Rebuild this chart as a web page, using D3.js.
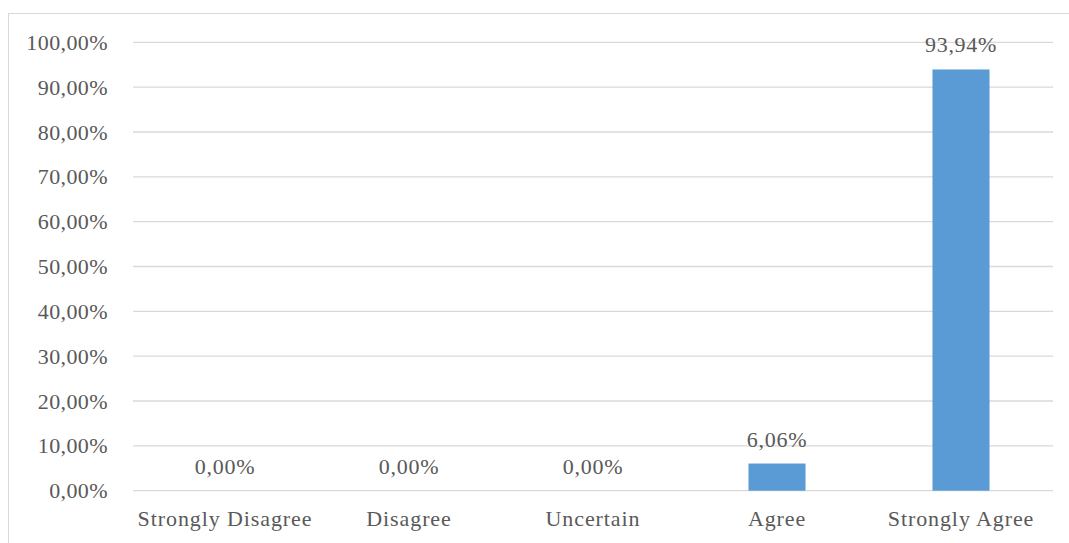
<!DOCTYPE html>
<html>
<head>
<meta charset="utf-8">
<script src="https://cdn.jsdelivr.net/npm/d3@7"></script>
<style>
  html, body { margin: 0; padding: 0; background: #fff; }
  svg { display: block; }
  text { font-family: "Liberation Serif", "Times New Roman", serif; fill: #595959; }
</style>
</head>
<body>
<svg id="chart" width="1069" height="543"></svg>
<script>
// Responses per agreement level (percent)
const categories = ["Strongly Disagree", "Disagree", "Uncertain", "Agree", "Strongly Agree"];
const values = [0.00, 0.00, 0.00, 6.06, 93.94];
const yTicks = [0, 10, 20, 30, 40, 50, 60, 70, 80, 90, 100];

const W = 1069, H = 543;
const plot = { left: 133, right: 1053, top: 42.3, bottom: 490.7 };
const FS = 22;

const svg = d3.select("#chart");

// Chart frame (top and left edges fall inside the view)
svg.append("rect")
  .attr("x", 8.5).attr("y", 13.5)
  .attr("width", W + 10).attr("height", H + 10)
  .attr("fill", "none").attr("stroke", "#D9D9D9").attr("stroke-width", 1);

const x = d3.scaleBand()
  .domain(categories)
  .range([plot.left, plot.right])
  .paddingInner(0.69)
  .paddingOuter(0.345);

const y = d3.scaleLinear()
  .domain([0, 100])
  .range([plot.bottom, plot.top]);

const fmt = v => v.toFixed(2).replace(".", ",") + "%";

// Horizontal gridlines
svg.append("g")
  .selectAll("line")
  .data(yTicks)
  .join("line")
  .attr("x1", plot.left).attr("x2", plot.right)
  .attr("y1", d => y(d)).attr("y2", d => y(d))
  .attr("stroke", "#D9D9D9").attr("stroke-width", 1.3);

// Y axis labels
const yAxis = d3.axisLeft(y).tickValues(yTicks).tickFormat(fmt).tickSize(0).tickPadding(25);
const gy = svg.append("g").attr("transform", `translate(${plot.left},0)`).call(yAxis);
gy.select(".domain").remove();
gy.selectAll("text")
  .attr("font-size", FS)
  .attr("letter-spacing", 0.4)
  .attr("fill", "#595959");

// X axis labels
const xAxis = d3.axisBottom(x).tickSize(0).tickPadding(20);
const gx = svg.append("g").attr("transform", `translate(0,${plot.bottom})`).call(xAxis);
gx.select(".domain").remove();
gx.selectAll("text")
  .attr("font-size", FS)
  .attr("letter-spacing", 0.9)
  .attr("fill", "#595959");

// Bars
svg.append("g")
  .selectAll("rect")
  .data(values)
  .join("rect")
  .attr("x", (d, i) => x(categories[i]))
  .attr("width", x.bandwidth())
  .attr("y", d => y(d))
  .attr("height", d => y(0) - y(d))
  .attr("fill", "#5B9BD5");

// Value labels above bars
svg.append("g")
  .selectAll("text")
  .data(values)
  .join("text")
  .attr("x", (d, i) => x(categories[i]) + x.bandwidth() / 2)
  .attr("y", d => y(d) - 17)
  .attr("text-anchor", "middle")
  .attr("font-size", FS)
  .attr("letter-spacing", 0.7)
  .text(d => fmt(d));
</script>
</body>
</html>
